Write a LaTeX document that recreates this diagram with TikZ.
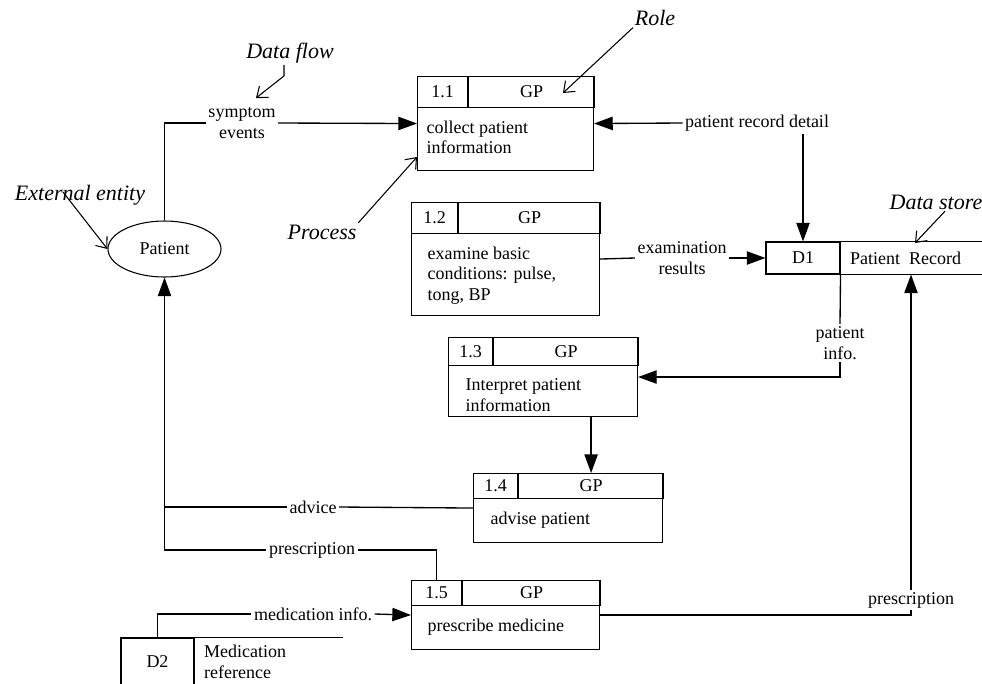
\documentclass[tikz,border=0pt]{standalone}
\usepackage{fontspec}
\setmainfont{Liberation Serif}
\usetikzlibrary{arrows.meta,shapes.geometric}

\def\px{0.75pt}

\begin{document}
\begin{tikzpicture}[x=0.75pt,y=-0.75pt]
		\tikzstyle{every path}=[line width=0.8pt]
		\tikzstyle{every node}=[font=\fontsize{13.5}{15.5}\selectfont]
		\tikzstyle{FlowSty}=[line width=1pt,-{Triangle[length=14pt,width=10pt]}]
		\tikzstyle{LineSty}=[line width=1pt]
		\tikzstyle{NoteSty}=[line width=0.8pt,-{Straight Barb[length=7pt,width=11pt]}]

		\tikzstyle{procbox}=[draw,inner sep=0pt]
		\tikzstyle{proccell}=[draw,inner sep=0pt]
		\tikzstyle{proctext}=[inner sep=0pt,align=left]
		\tikzstyle{storecell}=[draw,inner sep=0pt]
		\tikzstyle{entity}=[ellipse,draw,minimum width=113*\px,minimum height=56*\px,inner sep=0pt]
		\tikzstyle{flowlabel}=[inner sep=1.5pt,align=center]
		\tikzstyle{note}=[inner sep=1pt,font=\fontsize{16.5}{19}\selectfont\itshape]

\useasboundingbox (0,0) rectangle (982,683);

% name, north west corner, width, height, number width, head height, number, text shift, text
\newcommand*{\procbox}[9]{%
	\node[procbox,minimum width=#3*\px,minimum height=#4*\px,anchor=north west] (#1) at #2 {};
	\node[proccell,minimum width=#5*\px,minimum height=#6*\px,anchor=north west] (#1n) at (#1.north west) {#7};
	\node[proccell,minimum width=(#3-#5)*\px,minimum height=#6*\px,anchor=north west] (#1r) at (#1n.north east) {GP};
	\node[proctext,anchor=north west] (#1t) at ([shift={(#8,12)}]#1n.south west) {#9};
}

% Processes
\procbox{p11}{(417,76)}{176}{94}{50}{31}{1.1}{9}{collect patient\\information}
\procbox{p12}{(411,202)}{188}{113}{46}{31}{1.2}{16}{examine basic\\conditions: pulse,\\tong, BP}
\procbox{p13}{(448,337)}{189}{79}{44}{28}{1.3}{17}{Interpret patient\\information}
\procbox{p14}{(473,473)}{189}{69}{44}{25}{1.4}{17}{advise patient}
\procbox{p15}{(411,580)}{188}{69}{50}{25}{1.5}{16}{prescribe medicine}

% External entity
\node[entity] (pat) at (164.5,249) {Patient};

% Data stores
\node[storecell,minimum width=74*\px,minimum height=32*\px] (d1n) at (803,258) {D1};
\node[anchor=west,inner sep=0pt] (d1t) at ([shift={(9,0)}]d1n.east) {Patient\ \ Record};
\draw (d1n.north east) -- ++(160,0);
\draw (d1n.south east) -- ++(160,0);

\node[storecell,minimum width=73*\px,minimum height=48*\px] (d2n) at (157.5,662) {D2};
\node[anchor=west,inner sep=0pt,align=left] (d2t) at ([shift={(9,0)}]d2n.east) {Medication\\reference};
\draw (d2n.north east) -- ++(148,0);

% Flow labels
\node[flowlabel] (lsym) at (242,123) {symptom\\events};
\node[flowlabel] (lprd) at (757,123) {patient record detail};
\node[flowlabel] (lexam) at (682,258) {examination\\results};
\node[flowlabel] (lpinf) at (840,343) {patient\\info.};
\node[flowlabel] (ladv) at (313,507) {advice};
\node[flowlabel] (lpres) at (312,550) {prescription};
\node[flowlabel] (lmed) at (313,614) {medication info.};
\node[flowlabel] (lpresd) at (911,600) {prescription};

% Data flows
	\draw[LineSty] (pat.north) |- (lsym.west);
	\draw[FlowSty] (lsym.east) -- (p11.west);
	\draw[FlowSty] (lprd.west) -- (p11.east);
	\draw[FlowSty] (lprd.south -| d1n.north) -- (d1n.north);
	\draw[LineSty] (p12.east) -- (lexam.west);
	\draw[FlowSty] (lexam.east) -- (d1n.west);
	\draw[LineSty] (d1n.south east) -- (lpinf.north);
	\draw[FlowSty] (lpinf.south) |- (p13.east);
	\draw[FlowSty] (p13.south -| p14r.north) -- (p14r.north);
	\draw[LineSty] (p14.west) -- (ladv.east);
	\draw[LineSty] (ladv.west) -- (ladv.west -| pat.south);
	\draw[LineSty] (p15n.north) |- (lpres.east);
	\draw[FlowSty] (lpres.west) -| (pat.south);
	\draw[LineSty] (d2n.north) |- (lmed.west);
	\draw[FlowSty] (lmed.east) -- (p15.west);
	\draw[LineSty] (p15.east) -| (lpresd.south);
	\draw[FlowSty] (lpresd.north) -- (lpresd.north |- d1n.south);

% Notes
\node[note] (lrole) at (655,18) {Role};
\node[note] (lflow) at (290,53) {Data flow};
\node[note] (lext) at (80,195) {External entity};
\node[note] (lproc) at (322,232) {Process};
\node[note] (lstore) at (936,202) {Data store};

\coordinate (roletip) at (563,93);
\coordinate (flowtip) at (256,98);
\coordinate (proctip) at (417,157);
\coordinate (storetip) at (915,243);

	\draw[NoteSty] (lrole.south west) -- (roletip);
	\draw[NoteSty] ([shift={(-6,0)}]lflow.south) -- ++(0,11) -- (flowtip);
	\draw[NoteSty] ([shift={(-17,-3)}]lext.center) -- (pat.west);
	\draw[NoteSty] (lproc.north east) -- (proctip);
	\draw[NoteSty] ([shift={(9,0)}]lstore.south) -- (storetip);

\end{tikzpicture}
\end{document}
